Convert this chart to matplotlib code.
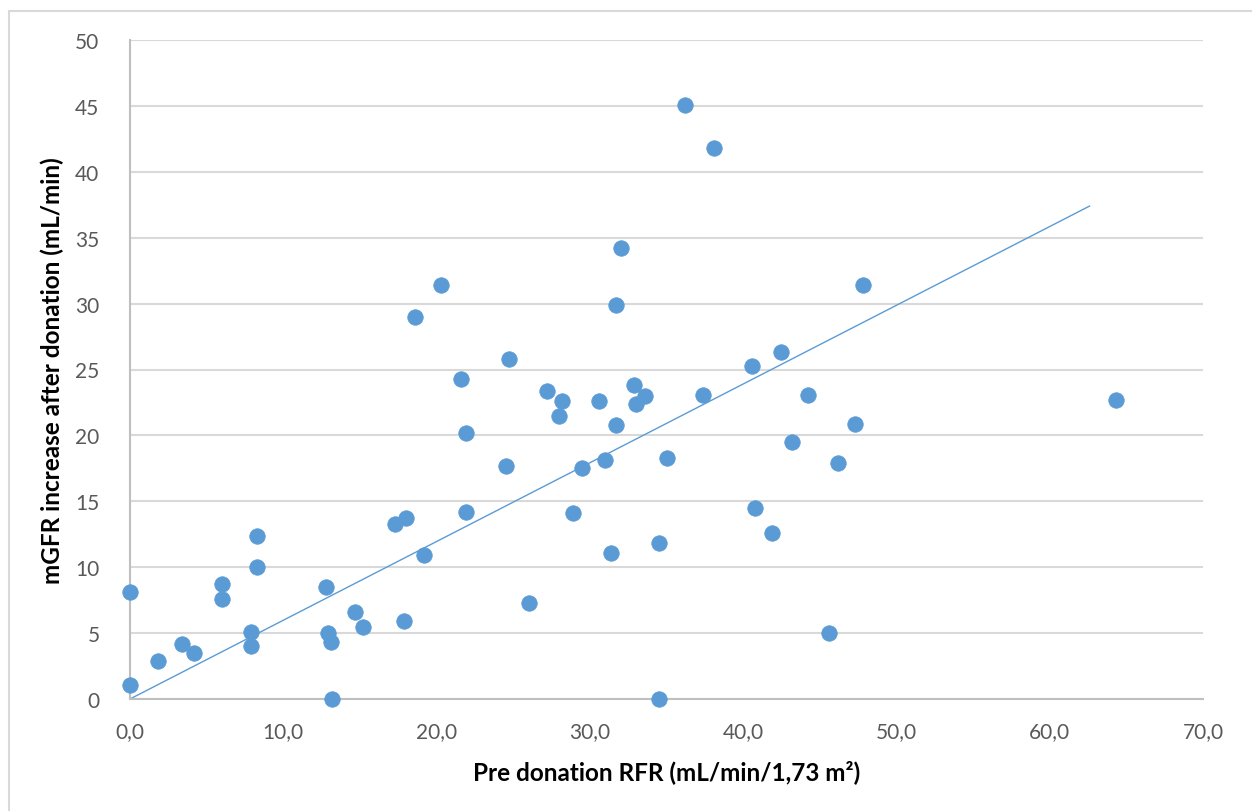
import matplotlib
matplotlib.use('Agg')
import matplotlib.pyplot as plt
from matplotlib.patches import Rectangle
from matplotlib.ticker import FuncFormatter

# Pre donation RFR (x) and mGFR increase after donation (y)
rfr = [0.0, 0.0, 1.8, 3.4, 4.2, 6.0, 6.0, 7.9, 7.9, 8.3,
       8.3, 12.8, 12.9, 13.1, 13.2, 14.7, 15.2, 17.3, 18.0, 17.9,
       18.6, 19.2, 20.3, 21.6, 21.9, 21.9, 24.7, 24.5, 26.0, 27.2,
       28.2, 28.0, 29.5, 28.9, 30.6, 31.0, 31.4, 31.7, 32.0, 31.7,
       32.9, 33.0, 33.6, 34.5, 34.5, 35.0, 36.2, 38.1, 37.4, 40.6,
       40.8, 42.5, 41.9, 43.2, 44.2, 45.6, 46.2, 47.3, 47.8, 64.3]
mgfr = [1.1, 8.1, 2.9, 4.2, 3.5, 8.7, 7.6, 5.1, 4.0, 12.4,
        10.0, 8.5, 5.0, 4.3, 0.0, 6.6, 5.5, 13.3, 13.7, 5.9,
        29.0, 10.9, 31.4, 24.3, 20.2, 14.2, 25.8, 17.7, 7.3, 23.4,
        22.6, 21.5, 17.5, 14.1, 22.6, 18.1, 11.1, 29.9, 34.2, 20.8,
        23.8, 22.4, 23.0, 11.8, 0.0, 18.3, 45.1, 41.8, 23.1, 25.3,
        14.5, 26.3, 12.6, 19.5, 23.1, 5.0, 17.9, 20.9, 31.4, 22.7]

# linear trendline as drawn (through the origin)
trend_x = [0.0, 62.6]
trend_y = [0.0, 37.4]

x_ticks = [0, 10, 20, 30, 40, 50, 60, 70]
y_ticks = [0, 5, 10, 15, 20, 25, 30, 35, 40, 45, 50]

plt.rcParams['font.family'] = ['Lato', 'DejaVu Sans']

W, H = 1252, 812
fig = plt.figure(figsize=(W / 100, H / 100), dpi=100)
ax = fig.add_axes([130 / W, (H - 700) / H, (1203 - 130) / W, (700 - 41) / H])

# outer chart border
fig.patches.append(Rectangle((9 / W, -0.1), 1.2, (H - 12) / H + 0.1,
                             transform=fig.transFigure, fill=False,
                             edgecolor='#D9D9D9', linewidth=1.5))

ax.scatter(rfr, mgfr, s=125, color='#5B9BD5', edgecolors='#5B9BD5',
           linewidths=0.5, zorder=3, clip_on=False)
ax.plot(trend_x, trend_y, color='#5B9BD5', linewidth=1.0, zorder=2)

ax.set_xlim(0, 70)
ax.set_ylim(0, 50)
ax.set_xticks(x_ticks)
ax.set_yticks(y_ticks)
ax.xaxis.set_major_formatter(FuncFormatter(lambda v, p: f'{v:.1f}'.replace('.', ',')))
ax.tick_params(length=0, labelsize=15, colors='#595959')
ax.tick_params(axis='y', pad=22)
ax.tick_params(axis='x', pad=16)

ax.grid(axis='y', color='#D9D9D9', linewidth=1.5)
ax.set_axisbelow(True)
for side in ['top', 'right']:
    ax.spines[side].set_visible(False)
for side in ['left', 'bottom']:
    ax.spines[side].set_color('#BFBFBF')
    ax.spines[side].set_linewidth(1.5)

ax.set_xlabel('Pre donation RFR (mL/min/1,73 m²)', fontsize=17.5, fontweight='bold',
              color='black', labelpad=13)
ax.set_ylabel('mGFR increase after donation (mL/min)', fontsize=17.5, fontweight='bold',
              color='black', labelpad=8)

fig.savefig('out.png', dpi=100, facecolor='white')
